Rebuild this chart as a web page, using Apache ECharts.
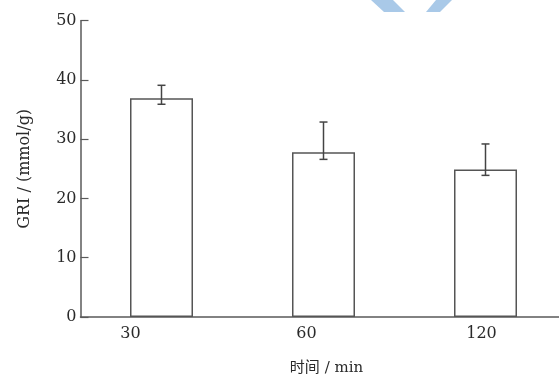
<!DOCTYPE html>
<html>
<head>
<meta charset="utf-8">
<script src="https://cdn.jsdelivr.net/npm/echarts@6/dist/echarts.min.js"></script>
<style>html,body{margin:0;padding:0;background:#fff;}#c{width:559px;height:376px;}</style>
</head>
<body>
<div id="c"></div>
<script>
var categories = ['30', '60', '120'];
var means = [36.9, 27.8, 24.9];
var errUpper = [39.1, 32.9, 29.2];
var errLower = [35.9, 26.6, 23.9];
var yTicks = [0, 10, 20, 30, 40, 50];
var labelShift = [62, 34, 8];

var serif = '"DejaVu Serif", "Noto Sans CJK SC", serif';
var axisColor = '#5a5a5a';
var textColor = '#2a2a2a';
var chart = echarts.init(document.getElementById('c'));

var rich = {};
categories.forEach(function (c, i) {
  rich['l' + i] = { fontFamily: serif, fontSize: 16, color: textColor, padding: [0, labelShift[i], 0, 0] };
});

var errData = categories.map(function (c, i) { return [i, errLower[i], errUpper[i]]; });

chart.setOption({
  animation: false,
  grid: { left: 80.5, width: 486, top: 20.7, height: 296.3, containLabel: false, outerBoundsMode: 'none' },
  xAxis: {
    type: 'category',
    data: categories,
    name: '时间 / min',
    nameLocation: 'middle',
    nameGap: 44,
    nameTextStyle: { fontFamily: serif, fontSize: 15, color: textColor, padding: [0, 0, 0, 6] },
    axisLine: { lineStyle: { color: axisColor, width: 1.5 } },
    axisTick: { inside: true, length: 4, lineStyle: { color: axisColor, width: 1.2 } },
    axisLabel: {
      margin: 9,
      formatter: function (v, i) { return '{l' + i + '|' + v + '}'; },
      rich: rich
    }
  },
  yAxis: {
    type: 'value',
    min: yTicks[0],
    max: yTicks[yTicks.length - 1],
    interval: 10,
    name: 'GRI / (mmol/g)',
    nameLocation: 'middle',
    nameGap: 48,
    nameTextStyle: { fontFamily: serif, fontSize: 16, color: textColor },
    splitLine: { show: false },
    axisLine: { show: true, lineStyle: { color: axisColor, width: 1.5 } },
    axisTick: { show: true, inside: true, length: 8, lineStyle: { color: axisColor, width: 1.2 } },
    axisLabel: { fontFamily: serif, fontSize: 16, color: textColor, margin: 4 }
  },
  graphic: [
    { type: 'polygon', shape: { points: [[371, 0], [393, 0], [405, 12], [384, 12]] }, style: { fill: '#a9c9e8' }, z: -1 },
    { type: 'polygon', shape: { points: [[436, 0], [452, 0], [440, 12], [426, 12]] }, style: { fill: '#a9c9e8' }, z: -1 }
  ],
  series: [
    {
      type: 'bar',
      data: means,
      barWidth: 63,
      itemStyle: { color: '#fff', borderColor: '#555', borderWidth: 1.5 }
    },
    {
      type: 'custom',
      data: errData,
      z: 10,
      renderItem: function (params, api) {
        var x = api.coord([api.value(0), api.value(1)])[0];
        var lo = api.coord([api.value(0), api.value(1)])[1];
        var hi = api.coord([api.value(0), api.value(2)])[1];
        var hw = 4;
        var st = { stroke: '#444', lineWidth: 1.5 };
        return {
          type: 'group',
          children: [
            { type: 'line', shape: { x1: x, y1: lo, x2: x, y2: hi }, style: st },
            { type: 'line', shape: { x1: x - hw, y1: hi, x2: x + hw, y2: hi }, style: st },
            { type: 'line', shape: { x1: x - hw, y1: lo, x2: x + hw, y2: lo }, style: st }
          ]
        };
      }
    }
  ]
});
</script>
</body>
</html>
